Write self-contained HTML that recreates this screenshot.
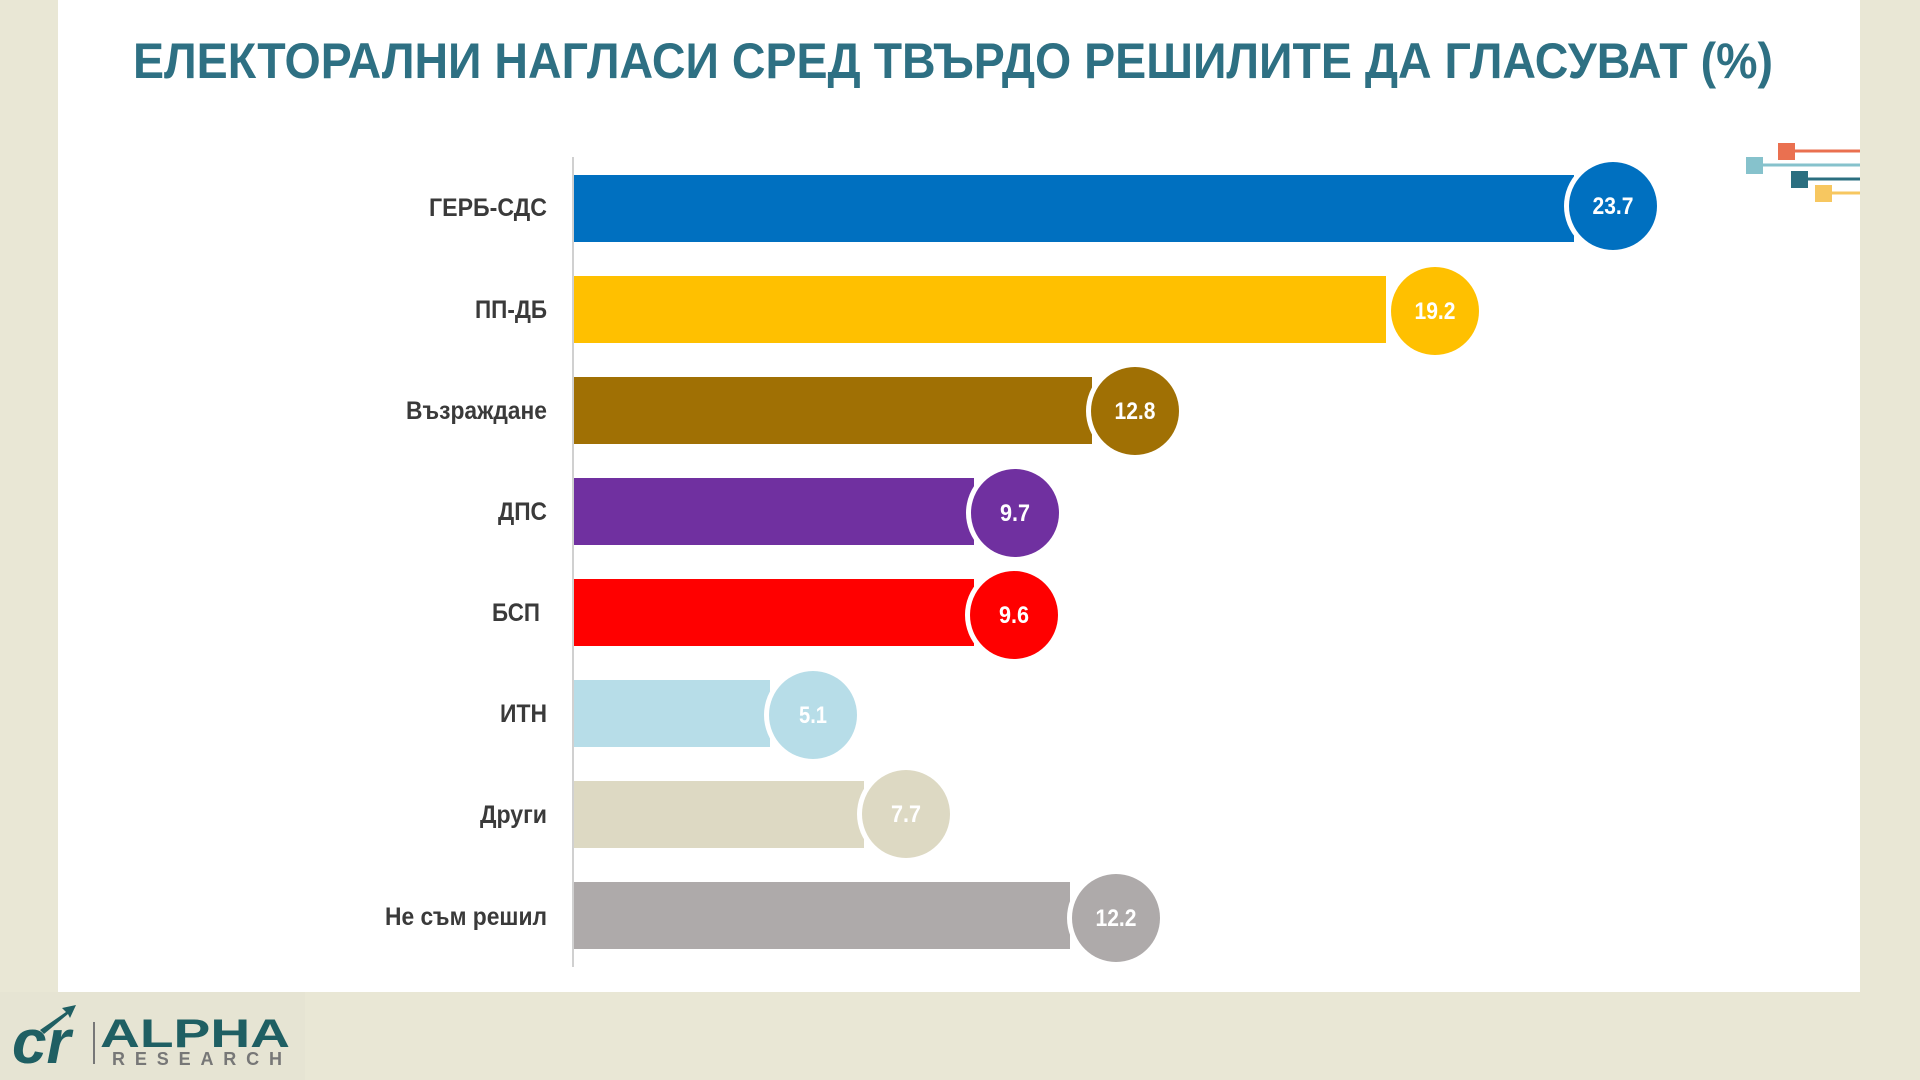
<!DOCTYPE html>
<html><head><meta charset="utf-8"><style>
html,body{margin:0;padding:0;width:1920px;height:1080px;overflow:hidden;background:#e9e7d5}
svg{display:block}
text{font-family:"Liberation Sans Narrow","Liberation Sans",sans-serif;font-weight:bold}
</style></head><body>
<svg width="1920" height="1080" viewBox="0 0 1920 1080">
<rect x="0" y="0" width="1920" height="1080" fill="#e9e7d5"/>
<rect x="58" y="0" width="1802" height="992" fill="#ffffff"/>
<rect x="0" y="992" width="305" height="88" fill="#e6e4d3"/>
<text x="953" y="78" text-anchor="middle" font-size="50" fill="#2e7083" textLength="1640" lengthAdjust="spacingAndGlyphs">ЕЛЕКТОРАЛНИ НАГЛАСИ СРЕД ТВЪРДО РЕШИЛИТЕ ДА ГЛАСУВАТ (%)</text>
<line x1="1793" y1="151" x2="1860" y2="151" stroke="#ea7050" stroke-width="3"/>
<rect x="1778" y="143" width="17" height="17" fill="#ea7050"/>
<line x1="1755" y1="165" x2="1860" y2="165" stroke="#86c2cc" stroke-width="3"/>
<rect x="1746" y="157" width="17" height="17" fill="#86c2cc"/>
<line x1="1805" y1="179" x2="1860" y2="179" stroke="#2b6f80" stroke-width="3"/>
<rect x="1791" y="171" width="17" height="17" fill="#2b6f80"/>
<line x1="1830" y1="193" x2="1860" y2="193" stroke="#f7c760" stroke-width="3"/>
<rect x="1815" y="185" width="17" height="17" fill="#f7c760"/>
<line x1="573" y1="157" x2="573" y2="967" stroke="#d0d0d0" stroke-width="2"/>
<g font-size="25" fill="#3a3a3a" text-anchor="end" lengthAdjust="spacingAndGlyphs">
<text x="547" y="216" textLength="118" lengthAdjust="spacingAndGlyphs">ГЕРБ-СДС</text>
<text x="547" y="318" textLength="72" lengthAdjust="spacingAndGlyphs">ПП-ДБ</text>
<text x="547" y="419" textLength="141" lengthAdjust="spacingAndGlyphs">Възраждане</text>
<text x="547" y="520" textLength="49" lengthAdjust="spacingAndGlyphs">ДПС</text>
<text x="540" y="621" textLength="48" lengthAdjust="spacingAndGlyphs">БСП</text>
<text x="547" y="722" textLength="47" lengthAdjust="spacingAndGlyphs">ИТН</text>
<text x="547" y="823" textLength="67" lengthAdjust="spacingAndGlyphs">Други</text>
<text x="547" y="925" textLength="162" lengthAdjust="spacingAndGlyphs">Не съм решил</text>
</g>
<g>
<rect x="574" y="175" width="1000" height="67" fill="#0070c0"/>
<circle cx="1613" cy="206" r="49" fill="#fff"/><circle cx="1613" cy="206" r="44" fill="#0070c0"/>
<rect x="574" y="276" width="812" height="67" fill="#ffc000"/>
<circle cx="1435" cy="311" r="49" fill="#fff"/><circle cx="1435" cy="311" r="44" fill="#ffc000"/>
<rect x="574" y="377" width="518" height="67" fill="#a07004"/>
<circle cx="1135" cy="411" r="49" fill="#fff"/><circle cx="1135" cy="411" r="44" fill="#a07004"/>
<rect x="574" y="478" width="400" height="67" fill="#7030a0"/>
<circle cx="1015" cy="513" r="49" fill="#fff"/><circle cx="1015" cy="513" r="44" fill="#7030a0"/>
<rect x="574" y="579" width="400" height="67" fill="#ff0000"/>
<circle cx="1014" cy="615" r="49" fill="#fff"/><circle cx="1014" cy="615" r="44" fill="#ff0000"/>
<rect x="574" y="680" width="196" height="67" fill="#b7dde8"/>
<circle cx="813" cy="715" r="49" fill="#fff"/><circle cx="813" cy="715" r="44" fill="#b7dde8"/>
<rect x="574" y="781" width="290" height="67" fill="#ddd9c3"/>
<circle cx="906" cy="814" r="49" fill="#fff"/><circle cx="906" cy="814" r="44" fill="#ddd9c3"/>
<rect x="574" y="882" width="496" height="67" fill="#aeaaaa"/>
<circle cx="1116" cy="918" r="49" fill="#fff"/><circle cx="1116" cy="918" r="44" fill="#aeaaaa"/>
</g>
<g font-size="24" fill="#fff" text-anchor="middle">
<text x="1613" y="214" textLength="41" lengthAdjust="spacingAndGlyphs">23.7</text>
<text x="1435" y="319" textLength="41" lengthAdjust="spacingAndGlyphs">19.2</text>
<text x="1135" y="419" textLength="41" lengthAdjust="spacingAndGlyphs">12.8</text>
<text x="1015" y="521" textLength="30" lengthAdjust="spacingAndGlyphs">9.7</text>
<text x="1014" y="623" textLength="30" lengthAdjust="spacingAndGlyphs">9.6</text>
<text x="813" y="723" textLength="28" lengthAdjust="spacingAndGlyphs">5.1</text>
<text x="906" y="822" textLength="30" lengthAdjust="spacingAndGlyphs">7.7</text>
<text x="1116" y="926" textLength="41" lengthAdjust="spacingAndGlyphs">12.2</text>
</g>
<text x="12" y="1063" font-size="62" fill="#1f5f63" font-family="Liberation Serif,serif" font-style="italic">cr</text>
<path d="M40 1030 L66 1012 L62 1008 L76 1005 L70 1018 L68 1014 L44 1034Z" fill="#1f5f63"/>
<line x1="94" y1="1022" x2="94" y2="1064" stroke="#777" stroke-width="2"/>
<text x="100" y="1047" font-size="40" fill="#1f5f63" font-family="Liberation Sans,sans-serif" textLength="190" lengthAdjust="spacingAndGlyphs">ALPHA</text>
<text x="112" y="1065" font-size="18" fill="#777" font-family="Liberation Sans,sans-serif" textLength="170" lengthAdjust="spacing">RESEARCH</text>
</svg>
</body></html>
